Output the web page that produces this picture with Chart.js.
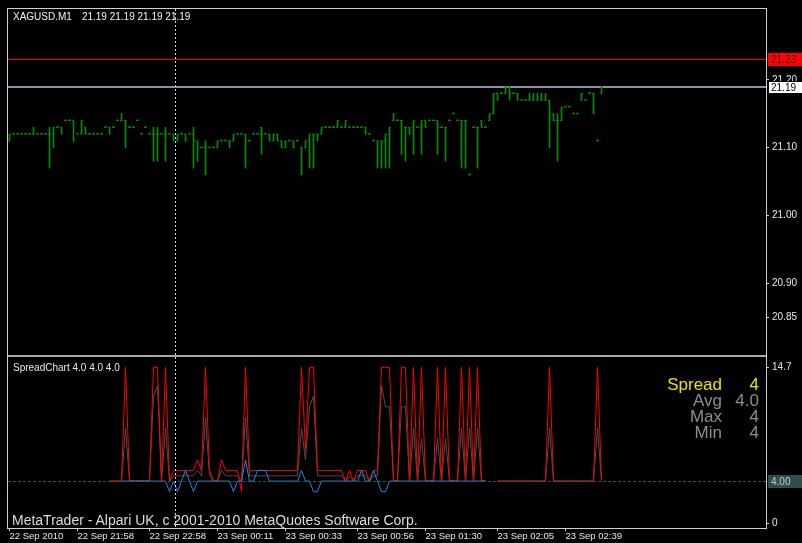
<!DOCTYPE html>
<html><head><meta charset="utf-8">
<script src="https://cdn.jsdelivr.net/npm/chart.js@4.4.1/dist/chart.umd.min.js"></script>
<style>
html,body{margin:0;padding:0;background:#000;}
#wrap{position:relative;width:802px;height:543px;overflow:hidden;background:#000;}
#c{position:absolute;left:0;top:0;}
.t{position:absolute;white-space:pre;font-family:'Liberation Sans',Arial,sans-serif;}
</style></head><body>
<div id="wrap">
<canvas id="c" width="802" height="543"></canvas>
<div class="t" style="left:13px;top:12px;font-size:10px;line-height:10px;color:#f4f4f4">XAGUSD.M1<span style="margin-left:10px">21.19 21.19 21.19 21.19</span></div>
<div class="t" style="left:13px;top:363px;font-size:10px;line-height:10px;color:#e8e8e8">SpreadChart 4.0 4.0 4.0</div>
<div class="t" style="right:80px;top:376px;font-size:17px;line-height:17px;color:#e6e600">Spread</div>
<div class="t" style="right:43px;top:376px;font-size:17px;line-height:17px;color:#e6e600">4</div>
<div class="t" style="right:80px;top:392px;font-size:17px;line-height:17px;color:#8e8e8e">Avg</div>
<div class="t" style="right:43px;top:392px;font-size:17px;line-height:17px;color:#8e8e8e">4.0</div>
<div class="t" style="right:80px;top:408px;font-size:17px;line-height:17px;color:#8e8e8e">Max</div>
<div class="t" style="right:43px;top:408px;font-size:17px;line-height:17px;color:#8e8e8e">4</div>
<div class="t" style="right:80px;top:424px;font-size:17px;line-height:17px;color:#8e8e8e">Min</div>
<div class="t" style="right:43px;top:424px;font-size:17px;line-height:17px;color:#8e8e8e">4</div>
<div class="t" style="left:12px;top:513px;font-size:14px;line-height:14px;color:#dcdcdc">MetaTrader - Alpari UK, c 2001-2010 MetaQuotes Software Corp.</div>
</div>
<script>
// ---------- DATA (XAGUSD M1 bars) ----------
const barHigh = [
21.12,21.12,21.12,21.12,21.12,21.12,21.13,21.12,21.12,21.12,
21.13,21.13,21.13,21.13,21.14,21.14,21.14,21.12,21.14,21.13,
21.12,21.12,21.12,21.12,21.13,21.13,21.13,21.14,21.15,21.14,
21.13,21.13,21.14,21.12,21.13,21.12,21.13,21.13,21.12,21.13,
21.12,21.12,21.12,21.12,21.12,21.12,21.13,21.11,21.10,21.11,
21.10,21.10,21.11,21.11,21.11,21.11,21.12,21.12,21.12,21.12,
21.11,21.12,21.12,21.13,21.12,21.12,21.12,21.12,21.11,21.11,
21.11,21.11,21.11,21.10,21.11,21.12,21.12,21.12,21.13,21.13,
21.13,21.13,21.14,21.13,21.14,21.13,21.13,21.13,21.13,21.13,
21.12,21.11,21.11,21.11,21.12,21.13,21.15,21.14,21.14,21.13,
21.13,21.14,21.13,21.14,21.14,21.14,21.14,21.14,21.13,21.13,
21.14,21.15,21.14,21.14,21.14,21.06,21.13,21.13,21.14,21.13,
21.15,21.18,21.18,21.18,21.19,21.19,21.18,21.18,21.17,21.17,
21.18,21.18,21.18,21.18,21.18,21.17,21.15,21.15,21.16,21.16,
21.16,21.15,21.15,21.18,21.17,21.18,21.18,21.11,21.19];
const barLow = [
21.11,21.12,21.12,21.12,21.12,21.12,21.12,21.12,21.12,21.12,
21.07,21.10,21.13,21.12,21.14,21.14,21.11,21.12,21.12,21.12,
21.12,21.12,21.12,21.12,21.13,21.12,21.13,21.14,21.14,21.10,
21.13,21.13,21.14,21.12,21.13,21.12,21.08,21.08,21.12,21.08,
21.12,21.11,21.11,21.12,21.11,21.12,21.07,21.08,21.10,21.06,
21.10,21.10,21.10,21.11,21.11,21.10,21.11,21.12,21.12,21.07,
21.11,21.12,21.12,21.09,21.12,21.11,21.11,21.11,21.10,21.10,
21.11,21.10,21.11,21.06,21.10,21.07,21.07,21.11,21.12,21.13,
21.13,21.13,21.13,21.13,21.13,21.13,21.13,21.13,21.13,21.12,
21.12,21.11,21.07,21.07,21.07,21.07,21.14,21.14,21.09,21.08,
21.12,21.09,21.13,21.09,21.13,21.14,21.14,21.09,21.13,21.08,
21.14,21.15,21.14,21.07,21.07,21.06,21.13,21.07,21.13,21.13,
21.14,21.15,21.17,21.18,21.18,21.17,21.18,21.17,21.17,21.17,
21.17,21.17,21.17,21.17,21.17,21.10,21.14,21.08,21.14,21.16,
21.16,21.15,21.15,21.17,21.17,21.18,21.15,21.11,21.18];
const barOpen = [
21.11,21.12,21.12,21.12,21.12,21.12,21.12,21.12,21.12,21.12,
21.12,21.12,21.13,21.13,21.14,21.14,21.14,21.12,21.12,21.13,
21.12,21.12,21.12,21.12,21.13,21.13,21.13,21.14,21.14,21.14,
21.13,21.13,21.14,21.12,21.13,21.12,21.12,21.12,21.12,21.12,
21.12,21.12,21.11,21.12,21.12,21.12,21.12,21.11,21.10,21.10,
21.10,21.10,21.10,21.11,21.11,21.11,21.11,21.12,21.12,21.12,
21.11,21.12,21.12,21.13,21.12,21.12,21.11,21.12,21.11,21.10,
21.11,21.11,21.11,21.10,21.10,21.11,21.12,21.12,21.12,21.13,
21.13,21.13,21.13,21.13,21.13,21.13,21.13,21.13,21.13,21.13,
21.12,21.11,21.11,21.11,21.11,21.12,21.14,21.14,21.14,21.13,
21.13,21.13,21.13,21.13,21.14,21.14,21.14,21.14,21.13,21.13,
21.14,21.15,21.14,21.14,21.14,21.06,21.13,21.13,21.14,21.13,
21.14,21.15,21.18,21.18,21.18,21.19,21.18,21.18,21.17,21.17,
21.17,21.17,21.17,21.17,21.17,21.17,21.15,21.14,21.14,21.16,
21.16,21.15,21.15,21.17,21.17,21.18,21.18,21.11,21.18];
const barClose = [
21.12,21.12,21.12,21.12,21.12,21.12,21.12,21.12,21.12,21.12,
21.12,21.13,21.13,21.12,21.14,21.14,21.11,21.12,21.14,21.12,
21.12,21.12,21.12,21.12,21.13,21.12,21.13,21.14,21.15,21.14,
21.13,21.13,21.14,21.12,21.13,21.12,21.12,21.12,21.12,21.12,
21.12,21.11,21.12,21.12,21.11,21.12,21.11,21.10,21.10,21.10,
21.10,21.10,21.11,21.11,21.11,21.11,21.12,21.12,21.12,21.11,
21.11,21.12,21.12,21.12,21.12,21.11,21.12,21.11,21.10,21.11,
21.11,21.10,21.11,21.10,21.11,21.12,21.12,21.12,21.13,21.13,
21.13,21.13,21.14,21.13,21.14,21.13,21.13,21.13,21.13,21.12,
21.12,21.11,21.11,21.11,21.12,21.13,21.15,21.14,21.14,21.13,
21.12,21.14,21.13,21.14,21.13,21.14,21.14,21.13,21.13,21.13,
21.14,21.15,21.14,21.14,21.14,21.06,21.13,21.13,21.13,21.13,
21.15,21.18,21.17,21.18,21.19,21.18,21.18,21.17,21.17,21.17,
21.17,21.17,21.17,21.17,21.17,21.15,21.14,21.14,21.16,21.16,
21.16,21.15,21.15,21.18,21.17,21.18,21.15,21.11,21.19];

// SpreadChart indicator buffers (points), one value per bar
const N = null;
const spreadMax = [
N,N,N,N,N,N,N,N,N,N, N,N,N,N,N,N,N,N,N,N, N,N,N,N,N,4,4,4,4,14.7,
4,4,4,4,4,4,14.7,14.7,4,14.7,
4,5,5,5,5,5,5,6,5,14.7,
5,4,4,6,5,5,5,5,3,14.7,
5,5,5,5,5,5,5,5,5,5,
5,5,5,14.7,7,14.7,14.7,5,5,5,
5,5,5,5,4,5,4,5,5,5,
4,5,5,14.7,14.7,14.7,4,4,14.7,14.7,
4,14.7,4,14.7,4,4,4,14.7,4,14.7,
4,4,4,14.7,4,14.7,4,14.7,4,4,
N,N,4,4,4,4,4,4,4,4,
4,4,4,4,4,14.7,4,4,4,4,
4,4,4,4,4,4,4,14.7,4];
const spreadMin = [
N,N,N,N,N,N,N,N,N,N, N,N,N,N,N,N,N,N,N,N, N,N,N,N,N,N,N,N,4,4,
4,4,4,4,4,4,4,4,4,4,
3,4,3,4,5,4,3,4,4,4,
4,4,4,4,4,4,3,4,4,6,
4,4,5,5,5,4,4,4,4,4,
4,4,4,5,4,4,3,3,4,4,
4,4,4,4,4,4,4,4,5,4,
4,5,4,3,3,4,4,4,4,4,
4,4,4,4,4,4,4,4,4,4,
4,4,4,4,4,4,4,4,4,4,
N,N,N,N,N,N,N,N,N,N,
N,N,N,N,N,N,N,N,N,N,
N,N,N,N,N,N,N,N,N];
const spreadAvg = [
N,N,N,N,N,N,N,N,N,N, N,N,N,N,N,N,N,N,N,N, N,N,N,N,N,4,4,4,4,9,
4,4,4,4,4,4,12,13,4,9,
4,4.5,4.5,4.5,4.5,4.5,4.5,5,4.5,10,
4.5,4,4,5,4.5,4.5,4.5,4.5,4,10,
4.5,4.5,4.5,4.5,4.5,4.5,4.5,4.5,4.5,4.5,
4.5,4.5,4.5,9,6,11,12,4.5,4.5,4.5,
4.5,4.5,4.5,4.5,4,4.5,4,4.5,4.5,4.5,
4,4.5,4.5,13,11,11,4,4,11,11,
4,9,4,8,4,4,4,8,4,8,
4,4,4,9,4,9,4,9,4,4,
N,N,4,4,4,4,4,4,4,4,
4,4,4,4,4,9,4,4,4,4,
4,4,4,4,4,4,4,9,4];

// time axis labels and the bars they belong to
const timeLabels = ['22 Sep 2010','22 Sep 21:58','22 Sep 22:58','23 Sep 00:11','23 Sep 00:33','23 Sep 00:56','23 Sep 01:30','23 Sep 02:05','23 Sep 02:39'];
const timeLabelBars = [0,17,35,52,69,87,104,122,139];
const priceTicks = [20.85,20.90,21.00,21.10,21.20];
const spreadTicks = [0,14.7];

// horizontal levels
const alertLevel = 21.23;
const bidLevel = 21.19;
const spreadLevel = 4.0;
const crosshairBar = 41.4;

// axis ranges
const BAR_MIN = -0.375, BAR_MAX = 189.125;
const PRICE_MIN = 20.7926, PRICE_MAX = 21.3044;
const SPREAD_MIN = -0.413, SPREAD_MAX = 15.737;

// ---------- BUILD ----------
const GREEN = '#0a8a0a';
const idx = barHigh.map((_, i) => i);
const hlData = idx.map(i => ({x: i, y: [barLow[i], barHigh[i]]}));
const openData = idx.map(i => ({x: i - 0.25, y: barOpen[i]}));
const closeData = idx.map(i => ({x: i + 0.25, y: barClose[i]}));
const pts = arr => arr.map((v, i) => ({x: i, y: v}));

const FONT = "'Liberation Sans', Arial, sans-serif";

function tagBox(ctx, x, y, text, bg, fg, stroke) {
  const yy = Math.round(y);
  ctx.fillStyle = bg;
  ctx.fillRect(x, yy - 6, 36, 13);
  if (stroke) { ctx.strokeStyle = stroke; ctx.lineWidth = 1; ctx.strokeRect(x + 0.5, yy - 5.5, 35, 12); }
  ctx.fillStyle = fg;
  ctx.font = '10px ' + FONT;
  ctx.textAlign = 'left';
  ctx.textBaseline = 'middle';
  ctx.fillText(text, x + 3, yy + 1);
}

const overlay = {
  id: 'mtOverlay',
  beforeDatasetsDraw(chart) {
    const {ctx, chartArea: a, scales: {yPrice}} = chart;
    ctx.save();
    let y = Math.round(yPrice.getPixelForValue(alertLevel)) + 0.5;
    ctx.strokeStyle = '#ff0000'; ctx.lineWidth = 1;
    ctx.beginPath(); ctx.moveTo(a.left, y); ctx.lineTo(a.right, y); ctx.stroke();
    y = Math.round(yPrice.getPixelForValue(bidLevel));
    ctx.strokeStyle = '#8794a3'; ctx.lineWidth = 2;
    ctx.beginPath(); ctx.moveTo(a.left, y); ctx.lineTo(a.right, y); ctx.stroke();
    ctx.restore();
  },
  afterDatasetsDraw(chart) {
    const {ctx, chartArea: a, scales: {x, yPrice, ySpread}} = chart;
    ctx.save();
    let y = Math.round(ySpread.getPixelForValue(spreadLevel)) + 0.5;
    ctx.strokeStyle = '#2f5656'; ctx.lineWidth = 1; ctx.setLineDash([3, 2]);
    ctx.beginPath(); ctx.moveTo(a.left, y); ctx.lineTo(a.right, y); ctx.stroke();
    ctx.setLineDash([]);
    const sep = Math.round(yPrice.bottom);
    ctx.fillStyle = '#a8a8a8'; ctx.fillRect(a.left, sep - 1, a.right - a.left, 2);
    const cx = Math.round(x.getPixelForValue(crosshairBar)) + 0.5;
    ctx.strokeStyle = '#d8d8d8'; ctx.setLineDash([2, 2]);
    ctx.beginPath(); ctx.moveTo(cx, a.top); ctx.lineTo(cx, a.bottom); ctx.stroke();
    ctx.setLineDash([]);
    ctx.strokeStyle = '#d0d0d0'; ctx.lineWidth = 1;
    ctx.strokeRect(a.left - 0.5, a.top - 0.5, a.right - a.left + 1, a.bottom - a.top + 1);
    ctx.restore();
  },
  afterDraw(chart) {
    const {ctx, chartArea: a, scales: {yPrice, ySpread}} = chart;
    ctx.save();
    tagBox(ctx, a.right + 2, yPrice.getPixelForValue(alertLevel), alertLevel.toFixed(2), '#ff0000', '#3a0000');
    tagBox(ctx, a.right + 2, yPrice.getPixelForValue(bidLevel), bidLevel.toFixed(2), '#ffffff', '#000000', '#000000');
    tagBox(ctx, a.right + 2, ySpread.getPixelForValue(spreadLevel), spreadLevel.toFixed(2), '#2f4f4f', '#c8c8c8');
    ctx.restore();
  }
};

const axisGrid = {drawOnChartArea: false, drawTicks: true, tickLength: 3, color: '#d0d0d0', offset: false};
const axisFont = {family: FONT, size: 10};

new Chart(document.getElementById('c'), {
  type: 'bar',
  data: {datasets: [
    {type: 'line', label: 'Avg', data: pts(spreadAvg), xAxisID: 'x', yAxisID: 'ySpread', borderColor: '#505050', borderWidth: 1, pointRadius: 0, tension: 0, spanGaps: false, order: 3},
    {type: 'line', label: 'Max', data: pts(spreadMax), xAxisID: 'x', yAxisID: 'ySpread', borderColor: '#ff0000', borderWidth: 1, pointRadius: 0, tension: 0, spanGaps: false, order: 2},
    {type: 'line', label: 'Min', data: pts(spreadMin), xAxisID: 'x', yAxisID: 'ySpread', borderColor: '#1e88e5', borderWidth: 1, pointRadius: 0, tension: 0, spanGaps: false, order: 1},
    {type: 'bar', label: 'HighLow', data: hlData, xAxisID: 'x', yAxisID: 'yPrice', backgroundColor: GREEN, borderWidth: 0, barThickness: 1, minBarLength: 1, order: 6},
    {type: 'line', label: 'Open', data: openData, xAxisID: 'x', yAxisID: 'yPrice', showLine: false, pointStyle: 'line', pointRadius: 0.5, borderColor: GREEN, borderWidth: 1, order: 5},
    {type: 'line', label: 'Close', data: closeData, xAxisID: 'x', yAxisID: 'yPrice', showLine: false, pointStyle: 'line', pointRadius: 0.5, borderColor: GREEN, borderWidth: 1, order: 4}
  ]},
  options: {
    responsive: false, animation: false, events: [], devicePixelRatio: 1,
    layout: {padding: {left: 8, top: 8, right: 0, bottom: 0}},
    plugins: {legend: {display: false}, tooltip: {enabled: false}},
    scales: {
      x: {
        type: 'linear', position: 'bottom', min: BAR_MIN, max: BAR_MAX, offset: false,
        afterBuildTicks: s => { s.ticks = timeLabelBars.map(v => ({value: v})); },
        afterFit: s => { s.height = 15; },
        grid: axisGrid, border: {display: false},
        ticks: {autoSkip: false, maxRotation: 0, minRotation: 0, align: 'start', padding: 0, color: '#e8e8e8', font: {family: FONT, size: 9.5}, callback: (v, i) => timeLabels[i]}
      },
      yPrice: {
        type: 'linear', position: 'right', stack: 'panes', stackWeight: 348, min: PRICE_MIN, max: PRICE_MAX,
        afterBuildTicks: s => { s.ticks = priceTicks.map(v => ({value: v})); },
        afterFit: s => { s.width = 36; },
        grid: axisGrid, border: {display: false},
        ticks: {autoSkip: false, padding: 3, color: '#e8e8e8', font: axisFont, callback: v => Number(v).toFixed(2)}
      },
      ySpread: {
        type: 'linear', position: 'right', stack: 'panes', stackWeight: 172, min: SPREAD_MIN, max: SPREAD_MAX,
        afterBuildTicks: s => { s.ticks = spreadTicks.map(v => ({value: v})); },
        afterFit: s => { s.width = 36; },
        grid: axisGrid, border: {display: false},
        ticks: {autoSkip: false, padding: 3, color: '#e8e8e8', font: axisFont, callback: v => String(v)}
      }
    }
  },
  plugins: [overlay]
});
</script>
</body></html>
